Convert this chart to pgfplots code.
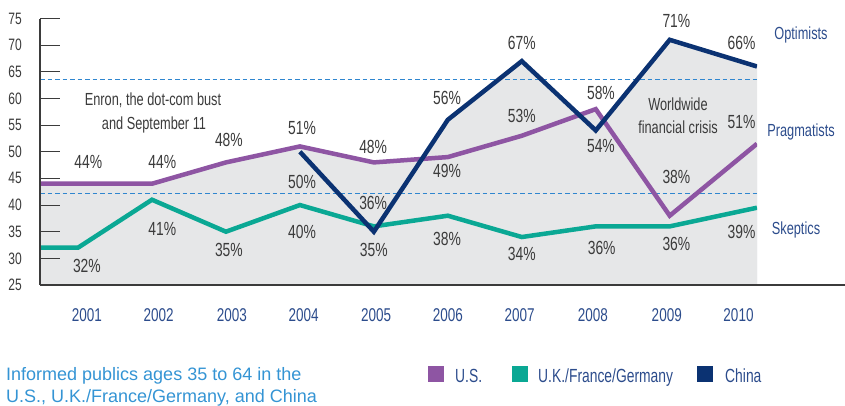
\documentclass[border=0pt]{standalone}
\usepackage{fontspec}
\setmainfont{Liberation Sans}
\newfontfamily\cond{Liberation Sans}[FakeStretch=0.73]
\usepackage{pgfplots}
\pgfplotsset{compat=1.18}
\usepackage{pgfplotstable}

\definecolor{usp}{HTML}{8E55A3}
\definecolor{eut}{HTML}{0AA894}
\definecolor{chn}{HTML}{0B3272}
\definecolor{fillgray}{HTML}{E6E7E8}
\definecolor{dashblue}{HTML}{2F86CF}
\definecolor{labblue}{HTML}{2C4C8C}
\definecolor{txtgray}{HTML}{3B3B3B}
\definecolor{notblue}{HTML}{3494D4}

\newcommand\valfont{\cond\fontsize{19bp}{22bp}\selectfont}
\newcommand\annfont{\cond\fontsize{17.5bp}{21bp}\selectfont}

% U.S. (Pragmatists)
\pgfplotstableread{
x y
2000.486 44
2001 44
2002 44
2003 48
2004 51
2005 48
2006 49
2007 53
2008 58
2009 38
2010.18 51.5
}\usdata

% U.K./France/Germany (Skeptics)
\pgfplotstableread{
x y
2000.486 32
2001 32
2002 41
2003 35
2004 40
2005 36
2006 38
2007 34
2008 36
2009 36
2010.18 39.5
}\eudata

% China (Optimists)
\pgfplotstableread{
x y
2004 50
2005 35
2006 56
2007 67
2008 54
2009 71
2010.18 66
}\cndata

\begin{document}
\begin{tikzpicture}
\path[use as bounding box] (0,0) rectangle (845bp,406bp);
\begin{axis}[
  at={(40bp,121bp)}, anchor=south west,
  scale only axis, width=717bp, height=266.5bp,
  xmin=2000.486, xmax=2010.18, ymin=25, ymax=75,
  clip mode=individual,
  axis x line=bottom, axis y line=left,
  axis line style={-, draw=txtgray, line width=1.1bp},
  axis on top,
  ytick={25,30,...,75},
  yticklabels={25,30,35,40,45,50,55,60,65,70,75},
  tick align=inside, major tick length=20bp,
  ytick style={draw=txtgray, line width=0.9bp},
  yticklabel style={font=\cond\fontsize{16.5bp}{19bp}\selectfont, text=txtgray, inner sep=0pt, xshift=-18bp},
  xtick={2001.12,2002.09,2003.08,2004.05,2005.03,2006,2006.97,2007.96,2008.96,2009.93},
  xticklabels={2001,2002,2003,2004,2005,2006,2007,2008,2009,2010},
  xtick style={draw=none},
  xticklabel style={font=\cond\fontsize{18.5bp}{21bp}\selectfont, text=labblue, anchor=base, inner sep=0pt, yshift=-36.7bp},
]
% shaded band under the upper envelope
\addplot[fill=fillgray, draw=none] table {\usdata} \closedcycle;
\addplot[fill=fillgray, draw=none] table {\cndata} \closedcycle;
% dashed reference lines
\addplot[dashblue, line width=1.3bp, dash pattern=on 4.5bp off 3bp] coordinates {(2000.486,63.6) (2010.18,63.6)};
\addplot[dashblue, line width=1.3bp, dash pattern=on 4.5bp off 3bp] coordinates {(2000.486,42.2) (2010.18,42.2)};
% series
\addplot[eut, line width=4.5bp, line join=miter] table {\eudata};
\addplot[usp, line width=4.5bp, line join=miter] table {\usdata};
\addplot[chn, line width=4.5bp, line join=miter] table {\cndata};

\tikzset{v/.style={font=\valfont, text=txtgray, inner sep=0pt, anchor=center}}
% U.S. values
\node[v] at (axis cs:2001.14,48.1) {44\%};
\node[v] at (axis cs:2002.14,48.1) {44\%};
\node[v] at (axis cs:2003.04,52.2) {48\%};
\node[v] at (axis cs:2004.03,54.5) {51\%};
\node[v] at (axis cs:2004.99,50.9) {48\%};
\node[v] at (axis cs:2005.99,46.4) {49\%};
\node[v] at (axis cs:2007.0,56.7) {53\%};
\node[v] at (axis cs:2008.07,61.0) {58\%};
\node[v] at (axis cs:2009.09,45.3) {38\%};
\node[v] at (axis cs:2009.97,55.6) {51\%};
% China values
\node[v] at (axis cs:2004.03,44.3) {50\%};
\node[v] at (axis cs:2004.99,40.4) {36\%};
\node[v] at (axis cs:2005.99,60.1) {56\%};
\node[v] at (axis cs:2007.0,70.4) {67\%};
\node[v] at (axis cs:2008.07,51.1) {54\%};
\node[v] at (axis cs:2009.09,74.5) {71\%};
\node[v] at (axis cs:2009.97,70.4) {66\%};
% U.K./France/Germany values
\node[v] at (axis cs:2001.12,28.6) {32\%};
\node[v] at (axis cs:2002.14,35.5) {41\%};
\node[v] at (axis cs:2003.04,31.6) {35\%};
\node[v] at (axis cs:2004.03,34.9) {40\%};
\node[v] at (axis cs:2005.0,31.6) {35\%};
\node[v] at (axis cs:2005.99,33.6) {38\%};
\node[v] at (axis cs:2007.0,30.8) {34\%};
\node[v] at (axis cs:2008.08,31.9) {36\%};
\node[v] at (axis cs:2009.09,32.7) {36\%};
\node[v] at (axis cs:2009.97,34.9) {39\%};
\end{axis}

% baseline extended to the right edge
\draw[txtgray, line width=1.1bp] (40bp,121bp) -- (845bp,121bp);

% annotations
\tikzset{a/.style={font=\annfont, text=txtgray, inner sep=0pt, anchor=base}}
\node[a] at (153bp,300bp) {Enron, the dot-com bust};
\node[a] at (154bp,276bp) {and September 11};
\node[a] at (678bp,295.3bp) {Worldwide};
\node[a] at (678bp,272bp) {financial crisis};

% series names on the right
\tikzset{r/.style={font=\annfont, text=labblue, inner sep=0pt, anchor=base}}
\node[r] at (801bp,366.7bp) {Optimists};
\node[r] at (801bp,269.3bp) {Pragmatists};
\node[r] at (796bp,171bp) {Skeptics};

% note
\tikzset{n/.style={font=\fontsize{18bp}{22.5bp}\selectfont, text=notblue, inner sep=0pt, anchor=base west}}
\node[n] at (6bp,26bp) {Informed publics ages 35 to 64 in the};
\node[n] at (6bp,3.3bp) {U.S., U.K./France/Germany, and China};

% legend
\tikzset{l/.style={font=\cond\fontsize{19bp}{22bp}\selectfont, text=labblue, inner sep=0pt, anchor=base west}}
\fill[usp] (428bp,24bp) rectangle (444bp,40bp);
\node[l] at (455bp,24bp) {U.S.};
\fill[eut] (512bp,24bp) rectangle (528bp,40bp);
\node[l] at (538bp,24bp) {U.K./France/Germany};
\fill[chn] (697bp,24bp) rectangle (713bp,40bp);
\node[l] at (725bp,24bp) {China};
\end{tikzpicture}
\end{document}
